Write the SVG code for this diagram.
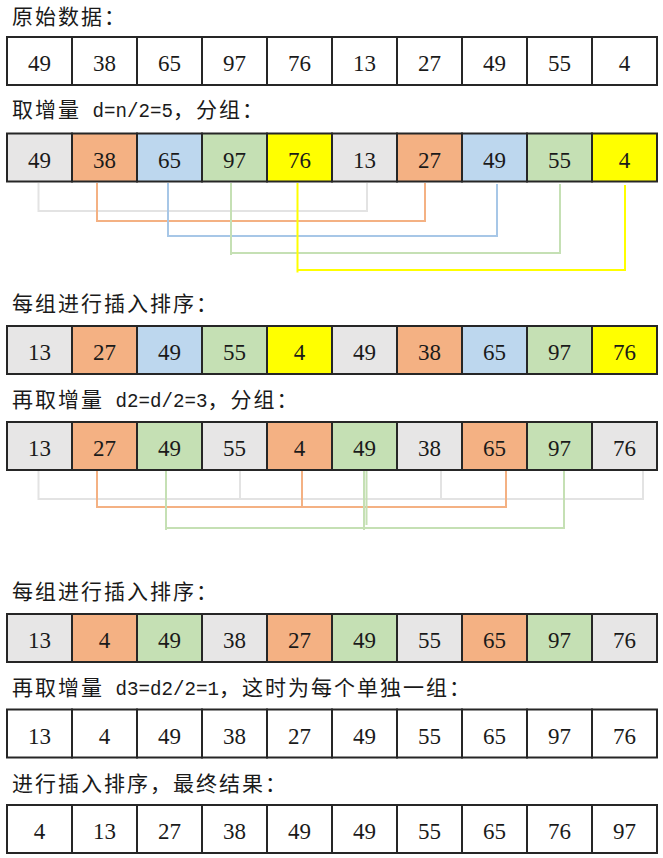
<svg xmlns="http://www.w3.org/2000/svg" width="663" height="858" viewBox="0 0 663 858">
<style>
.lbl{font-family:"Noto Sans CJK SC","Noto Sans",sans-serif;font-size:21px;letter-spacing:2px;fill:#1a1a1a}
.a{font-family:"Liberation Mono","DejaVu Sans Mono",monospace;font-size:21px;letter-spacing:0}
rect{stroke:#262626;stroke-width:2}
.w{fill:#ffffff}.g{fill:#E7E6E6}.o{fill:#F4B183}.b{fill:#BDD7EE}.gr{fill:#C5E0B4}.y{fill:#FFFF00}
text.n{font-family:"Liberation Serif","Times New Roman",serif;font-size:23px;text-anchor:middle;fill:#1a1a1a}
.cn{fill:none;stroke-width:2}
.lg{stroke:#E3E3E3}.lo{stroke:#F4B183}.lb{stroke:#A7C7E7}.lgr{stroke:#C5E0B4}.ly{stroke:#FFFF00}
</style>
<rect width="663" height="858" fill="#ffffff" style="stroke:none"/>
<g id="labels">
<text class="lbl" x="12" y="23.5">原始数据：</text>
<text class="lbl" x="12" y="117">取增量<tspan class="a" textLength="92" lengthAdjust="spacingAndGlyphs"> d=n/2=5</tspan>，分组：</text>
<text class="lbl" x="12" y="310.5">每组进行插入排序：</text>
<text class="lbl" x="12" y="406.5">再取增量<tspan class="a" textLength="103.5" lengthAdjust="spacingAndGlyphs"> d2=d/2=3</tspan>，分组：</text>
<text class="lbl" x="12" y="599">每组进行插入排序：</text>
<text class="lbl" x="12" y="695">再取增量<tspan class="a" textLength="115" lengthAdjust="spacingAndGlyphs"> d3=d2/2=1</tspan>，这时为每个单独一组：</text>
<text class="lbl" x="12" y="791">进行插入排序，最终结果：</text>
</g>
<g id="connectors">
<path class="cn lg" d="M38.5,183 V211 H367 V183"/>
<path class="cn lo" d="M97,183 V221 H425 V183"/>
<path class="cn lb" d="M168,183 V236 H497 V184"/>
<path class="cn lgr" d="M231,183 V255 M231,253 H560 V184"/>
<path class="cn ly" d="M297.5,183 V272.5 M297.5,270 H625 V185"/>
<path class="cn lg" d="M38.5,471 V499 H643 V471 M240,471 V499 M441,471 V499"/>
<path class="cn lo" d="M97,471 V507 H506 V471 M302,471 V507"/>
<path class="cn lgr" d="M166,471 V530 M166,528 H564 V471 M364,471 V530 M366.5,471 V525"/>
</g>
<g id="row1">
<g id="r1c1"><rect class="w" x="7" y="37" width="65" height="48"/><text class="n" x="39.5" y="71">49</text></g>
<g id="r1c2"><rect class="w" x="72" y="37" width="65" height="48"/><text class="n" x="104.5" y="71">38</text></g>
<g id="r1c3"><rect class="w" x="137" y="37" width="65" height="48"/><text class="n" x="169.5" y="71">65</text></g>
<g id="r1c4"><rect class="w" x="202" y="37" width="65" height="48"/><text class="n" x="234.5" y="71">97</text></g>
<g id="r1c5"><rect class="w" x="267" y="37" width="65" height="48"/><text class="n" x="299.5" y="71">76</text></g>
<g id="r1c6"><rect class="w" x="332" y="37" width="65" height="48"/><text class="n" x="364.5" y="71">13</text></g>
<g id="r1c7"><rect class="w" x="397" y="37" width="65" height="48"/><text class="n" x="429.5" y="71">27</text></g>
<g id="r1c8"><rect class="w" x="462" y="37" width="65" height="48"/><text class="n" x="494.5" y="71">49</text></g>
<g id="r1c9"><rect class="w" x="527" y="37" width="65" height="48"/><text class="n" x="559.5" y="71">55</text></g>
<g id="r1c10"><rect class="w" x="592" y="37" width="65" height="48"/><text class="n" x="624.5" y="71">4</text></g>
</g>
<g id="row2">
<g id="r2c1"><rect class="g" x="7" y="133.5" width="65" height="48"/><text class="n" x="39.5" y="167.5">49</text></g>
<g id="r2c2"><rect class="o" x="72" y="133.5" width="65" height="48"/><text class="n" x="104.5" y="167.5">38</text></g>
<g id="r2c3"><rect class="b" x="137" y="133.5" width="65" height="48"/><text class="n" x="169.5" y="167.5">65</text></g>
<g id="r2c4"><rect class="gr" x="202" y="133.5" width="65" height="48"/><text class="n" x="234.5" y="167.5">97</text></g>
<g id="r2c5"><rect class="y" x="267" y="133.5" width="65" height="48"/><text class="n" x="299.5" y="167.5">76</text></g>
<g id="r2c6"><rect class="g" x="332" y="133.5" width="65" height="48"/><text class="n" x="364.5" y="167.5">13</text></g>
<g id="r2c7"><rect class="o" x="397" y="133.5" width="65" height="48"/><text class="n" x="429.5" y="167.5">27</text></g>
<g id="r2c8"><rect class="b" x="462" y="133.5" width="65" height="48"/><text class="n" x="494.5" y="167.5">49</text></g>
<g id="r2c9"><rect class="gr" x="527" y="133.5" width="65" height="48"/><text class="n" x="559.5" y="167.5">55</text></g>
<g id="r2c10"><rect class="y" x="592" y="133.5" width="65" height="48"/><text class="n" x="624.5" y="167.5">4</text></g>
</g>
<g id="row3">
<g id="r3c1"><rect class="g" x="7" y="326" width="65" height="48"/><text class="n" x="39.5" y="360">13</text></g>
<g id="r3c2"><rect class="o" x="72" y="326" width="65" height="48"/><text class="n" x="104.5" y="360">27</text></g>
<g id="r3c3"><rect class="b" x="137" y="326" width="65" height="48"/><text class="n" x="169.5" y="360">49</text></g>
<g id="r3c4"><rect class="gr" x="202" y="326" width="65" height="48"/><text class="n" x="234.5" y="360">55</text></g>
<g id="r3c5"><rect class="y" x="267" y="326" width="65" height="48"/><text class="n" x="299.5" y="360">4</text></g>
<g id="r3c6"><rect class="g" x="332" y="326" width="65" height="48"/><text class="n" x="364.5" y="360">49</text></g>
<g id="r3c7"><rect class="o" x="397" y="326" width="65" height="48"/><text class="n" x="429.5" y="360">38</text></g>
<g id="r3c8"><rect class="b" x="462" y="326" width="65" height="48"/><text class="n" x="494.5" y="360">65</text></g>
<g id="r3c9"><rect class="gr" x="527" y="326" width="65" height="48"/><text class="n" x="559.5" y="360">97</text></g>
<g id="r3c10"><rect class="y" x="592" y="326" width="65" height="48"/><text class="n" x="624.5" y="360">76</text></g>
</g>
<g id="row4">
<g id="r4c1"><rect class="g" x="7" y="422" width="65" height="48"/><text class="n" x="39.5" y="456">13</text></g>
<g id="r4c2"><rect class="o" x="72" y="422" width="65" height="48"/><text class="n" x="104.5" y="456">27</text></g>
<g id="r4c3"><rect class="gr" x="137" y="422" width="65" height="48"/><text class="n" x="169.5" y="456">49</text></g>
<g id="r4c4"><rect class="g" x="202" y="422" width="65" height="48"/><text class="n" x="234.5" y="456">55</text></g>
<g id="r4c5"><rect class="o" x="267" y="422" width="65" height="48"/><text class="n" x="299.5" y="456">4</text></g>
<g id="r4c6"><rect class="gr" x="332" y="422" width="65" height="48"/><text class="n" x="364.5" y="456">49</text></g>
<g id="r4c7"><rect class="g" x="397" y="422" width="65" height="48"/><text class="n" x="429.5" y="456">38</text></g>
<g id="r4c8"><rect class="o" x="462" y="422" width="65" height="48"/><text class="n" x="494.5" y="456">65</text></g>
<g id="r4c9"><rect class="gr" x="527" y="422" width="65" height="48"/><text class="n" x="559.5" y="456">97</text></g>
<g id="r4c10"><rect class="g" x="592" y="422" width="65" height="48"/><text class="n" x="624.5" y="456">76</text></g>
</g>
<g id="row5">
<g id="r5c1"><rect class="g" x="7" y="614" width="65" height="48"/><text class="n" x="39.5" y="648">13</text></g>
<g id="r5c2"><rect class="o" x="72" y="614" width="65" height="48"/><text class="n" x="104.5" y="648">4</text></g>
<g id="r5c3"><rect class="gr" x="137" y="614" width="65" height="48"/><text class="n" x="169.5" y="648">49</text></g>
<g id="r5c4"><rect class="g" x="202" y="614" width="65" height="48"/><text class="n" x="234.5" y="648">38</text></g>
<g id="r5c5"><rect class="o" x="267" y="614" width="65" height="48"/><text class="n" x="299.5" y="648">27</text></g>
<g id="r5c6"><rect class="gr" x="332" y="614" width="65" height="48"/><text class="n" x="364.5" y="648">49</text></g>
<g id="r5c7"><rect class="g" x="397" y="614" width="65" height="48"/><text class="n" x="429.5" y="648">55</text></g>
<g id="r5c8"><rect class="o" x="462" y="614" width="65" height="48"/><text class="n" x="494.5" y="648">65</text></g>
<g id="r5c9"><rect class="gr" x="527" y="614" width="65" height="48"/><text class="n" x="559.5" y="648">97</text></g>
<g id="r5c10"><rect class="g" x="592" y="614" width="65" height="48"/><text class="n" x="624.5" y="648">76</text></g>
</g>
<g id="row6">
<g id="r6c1"><rect class="w" x="7" y="709.5" width="65" height="48"/><text class="n" x="39.5" y="743.5">13</text></g>
<g id="r6c2"><rect class="w" x="72" y="709.5" width="65" height="48"/><text class="n" x="104.5" y="743.5">4</text></g>
<g id="r6c3"><rect class="w" x="137" y="709.5" width="65" height="48"/><text class="n" x="169.5" y="743.5">49</text></g>
<g id="r6c4"><rect class="w" x="202" y="709.5" width="65" height="48"/><text class="n" x="234.5" y="743.5">38</text></g>
<g id="r6c5"><rect class="w" x="267" y="709.5" width="65" height="48"/><text class="n" x="299.5" y="743.5">27</text></g>
<g id="r6c6"><rect class="w" x="332" y="709.5" width="65" height="48"/><text class="n" x="364.5" y="743.5">49</text></g>
<g id="r6c7"><rect class="w" x="397" y="709.5" width="65" height="48"/><text class="n" x="429.5" y="743.5">55</text></g>
<g id="r6c8"><rect class="w" x="462" y="709.5" width="65" height="48"/><text class="n" x="494.5" y="743.5">65</text></g>
<g id="r6c9"><rect class="w" x="527" y="709.5" width="65" height="48"/><text class="n" x="559.5" y="743.5">97</text></g>
<g id="r6c10"><rect class="w" x="592" y="709.5" width="65" height="48"/><text class="n" x="624.5" y="743.5">76</text></g>
</g>
<g id="row7">
<g id="r7c1"><rect class="w" x="7" y="805" width="65" height="48"/><text class="n" x="39.5" y="839">4</text></g>
<g id="r7c2"><rect class="w" x="72" y="805" width="65" height="48"/><text class="n" x="104.5" y="839">13</text></g>
<g id="r7c3"><rect class="w" x="137" y="805" width="65" height="48"/><text class="n" x="169.5" y="839">27</text></g>
<g id="r7c4"><rect class="w" x="202" y="805" width="65" height="48"/><text class="n" x="234.5" y="839">38</text></g>
<g id="r7c5"><rect class="w" x="267" y="805" width="65" height="48"/><text class="n" x="299.5" y="839">49</text></g>
<g id="r7c6"><rect class="w" x="332" y="805" width="65" height="48"/><text class="n" x="364.5" y="839">49</text></g>
<g id="r7c7"><rect class="w" x="397" y="805" width="65" height="48"/><text class="n" x="429.5" y="839">55</text></g>
<g id="r7c8"><rect class="w" x="462" y="805" width="65" height="48"/><text class="n" x="494.5" y="839">65</text></g>
<g id="r7c9"><rect class="w" x="527" y="805" width="65" height="48"/><text class="n" x="559.5" y="839">76</text></g>
<g id="r7c10"><rect class="w" x="592" y="805" width="65" height="48"/><text class="n" x="624.5" y="839">97</text></g>
</g>
</svg>
